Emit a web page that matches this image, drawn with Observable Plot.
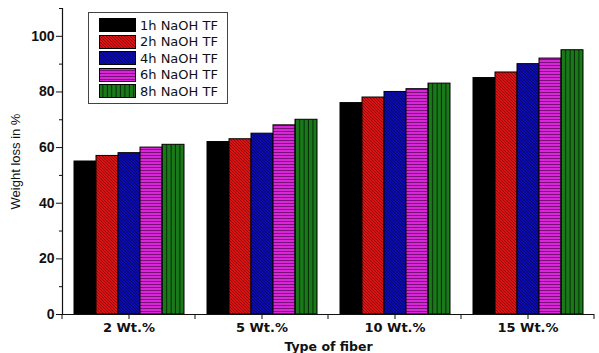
<!DOCTYPE html>
<html>
<head>
<meta charset="utf-8">
<script src="https://cdn.jsdelivr.net/npm/d3@7"></script>
<script src="https://cdn.jsdelivr.net/npm/@observablehq/plot@0.6"></script>
<style>
  body { margin: 0; background: white; }
  #wrap { position: relative; width: 599px; height: 353px; }
  #legend { position: absolute; left: 88px; top: 12px; width: 140px; height: 92px; border: 1px solid #444; background: white; box-sizing: border-box; padding-top: 4px; }
  .row { display: flex; align-items: center; height: 16.5px; font: 13px "DejaVu Sans", sans-serif; color: #111; }
  .row svg { margin-left: 10px; margin-right: 4px; }
</style>
</head>
<body>
<svg width="0" height="0" style="position:absolute">
  <defs>
    <pattern id="p-red" patternUnits="userSpaceOnUse" width="3" height="3">
      <rect width="3" height="3" fill="#d81414"></rect>
      <path d="M-1,-1 L4,4 M-1,2 L1,4 M2,-1 L4,1" stroke="#8a0606" stroke-width="0.8"></path>
    </pattern>
    <pattern id="p-blue" patternUnits="userSpaceOnUse" width="3" height="3">
      <rect width="3" height="3" fill="#0c0cae"></rect>
      <path d="M-1,-1 L4,4 M-1,2 L1,4 M2,-1 L4,1" stroke="#05055e" stroke-width="0.8"></path>
    </pattern>
    <pattern id="p-mag" patternUnits="userSpaceOnUse" width="4" height="3">
      <rect width="4" height="3" fill="#d826d8"></rect>
      <rect y="2" width="4" height="1" fill="#7a107a"></rect>
    </pattern>
    <pattern id="p-green" patternUnits="userSpaceOnUse" width="4.4" height="4">
      <rect width="4.4" height="4" fill="#1a7a1a"></rect>
      <rect x="3.4" width="1" height="4" fill="#052805"></rect>
    </pattern>
  </defs>
</svg>
<div id="wrap">
  <div id="legend"></div>
</div>
<script>
const groups = ["2 Wt.%", "5 Wt.%", "10 Wt.%", "15 Wt.%"];
const series = ["1h NaOH TF", "2h NaOH TF", "4h NaOH TF", "6h NaOH TF", "8h NaOH TF"];
const v1h = [55, 62, 76, 85];
const v2h = [57, 63, 78, 87];
const v4h = [58, 65, 80, 90];
const v6h = [60, 68, 81, 92];
const v8h = [61, 70, 83, 95];
const fills = ["#000000", "url(#p-red)", "url(#p-blue)", "url(#p-mag)", "url(#p-green)"];
const majorTicks = [0, 20, 40, 60, 80, 100];
const minorTicks = [10, 30, 50, 70, 90, 110];

const valueSets = [v1h, v2h, v4h, v6h, v8h];
const data = [];
groups.forEach((g, i) => series.forEach((s, j) => data.push({group: g, series: s, value: valueSets[j][i]})));

const plot = Plot.plot({
  width: 599,
  height: 353,
  marginLeft: 62,
  marginRight: 5,
  marginTop: 8,
  marginBottom: 39,
  style: {fontFamily: "Liberation Sans, Arial, sans-serif", background: "white", color: "#111"},
  fx: {domain: groups, padding: 0},
  x: {domain: series, paddingInner: 0, paddingOuter: 0.52, axis: null},
  y: {domain: [0, 110]},
  color: {domain: series, range: fills},
  marks: [
    Plot.barY(data, {fx: "group", x: "series", y: "value", fill: "series", stroke: "black", strokeWidth: 1}),
    Plot.ruleY([0], {stroke: "#111", strokeWidth: 1.2}),
    Plot.frame({anchor: "left", facetAnchor: "left", stroke: "#111", strokeWidth: 1.2}),
    Plot.axisY({ticks: majorTicks, tickSize: 6, tickPadding: 2, fontWeight: "bold", fontSize: 14, label: null, stroke: "#111"}),
    Plot.axisY({ticks: minorTicks, tickSize: 3, text: null, label: null, stroke: "#111"}),
    Plot.axisY({ticks: [], label: "Weight loss in %", labelAnchor: "center", labelOffset: 52, labelArrow: "none", fontSize: 13}),
    Plot.axisFx({anchor: "bottom", tickSize: 5, tickPadding: 3, fontWeight: "bold", fontSize: 13, fontFamily: "DejaVu Sans, sans-serif", label: null}),
    Plot.axisFx({anchor: "bottom", ticks: [], label: "Type of fiber", labelAnchor: "center", labelOffset: 36, labelArrow: "none", fontWeight: "bold", fontSize: 12.5, fontFamily: "DejaVu Sans, sans-serif"})
  ]
});

// boundary ticks between groups, placed through the fx scale
const fx = plot.scale("fx");
const y = plot.scale("y");
const y0 = y.apply(0);
const bounds = groups.map(g => fx.apply(g)).concat([fx.apply(groups[groups.length - 1]) + fx.bandwidth]);
const sel = d3.select(plot);
sel.append("g").attr("stroke", "#111")
  .selectAll("line").data(bounds).join("line")
  .attr("x1", d => d).attr("x2", d => d)
  .attr("y1", y0).attr("y2", y0 + 5);

document.getElementById("wrap").prepend(plot);

// legend
const legend = d3.select("#legend");
series.forEach((s, j) => {
  const row = legend.append("div").attr("class", "row");
  const sw = row.append("svg").attr("width", 37).attr("height", 14);
  sw.append("rect").attr("x", 0.5).attr("y", 0.5).attr("width", 36).attr("height", 13)
    .attr("fill", fills[j]).attr("stroke", "black");
  row.append("span").text(s);
});
</script>
</body>
</html>
